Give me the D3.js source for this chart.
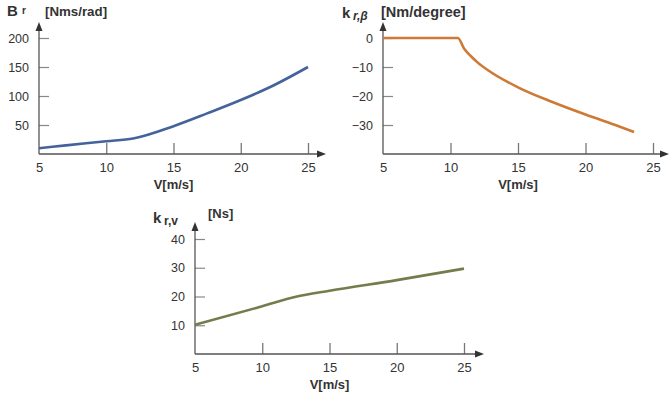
<!DOCTYPE html>
<html>
<head>
<meta charset="utf-8">
<script src="https://cdn.jsdelivr.net/npm/d3@7"></script>
<style>
  body { margin: 0; background: #fff; }
  svg { font-family: "Liberation Sans", Arial, sans-serif; }
  .tick text { fill: #333; }
</style>
</head>
<body>
<svg id="chart" width="670" height="400"></svg>
<script>
const width = 670;
const height = 400;

// wind speed ticks shared by all three panels
const speedTicks = [5, 10, 15, 20, 25];

// B_r damping [Nms/rad]
const brSpeed = [5, 7, 10, 12, 15, 17.5, 20, 22.5, 25];
const brValue = [10, 14.8, 22, 26.8, 48, 70, 93, 119, 150];
const brTicks = [50, 100, 150, 200];

// k_r,beta [Nm/degree]
const kbSpeed = [5, 10.55, 11, 11.5, 12, 13, 15, 17.5, 20, 22.5, 23.6];
const kbValue = [0, 0, -3.6, -6.2, -8.4, -11.8, -17, -22, -26.4, -30.5, -32.4];
const kbTicks = [-30, -20, -10, 0];

// k_r,v [Ns]
const kvSpeed = [5, 10, 12.5, 15, 20, 25];
const kvValue = [10.2, 16.6, 19.9, 22, 25.7, 29.7];
const kvTicks = [10, 20, 30, 40];

const svg = d3.select("#chart");

const panels = [
  {
    xs: brSpeed, ys: brValue, yTicks: brTicks, yDomain: [0, 200],
    left: 39, right: 308, arrowX: 326, bottom: 154, top: 38, arrowY: 22,
    color: "#44639a",
    title: {main: "B", x: 7, y: 16, mainSize: 15,
            sub: "r", subX: 22, subY: 14, subSize: 10, subStyle: "normal",
            unit: "[Nms/rad]", unitX: 45, unitY: 16, unitSize: 13.3}
  },
  {
    xs: kbSpeed, ys: kbValue, yTicks: kbTicks, yDomain: [-40, 0],
    left: 383, right: 653, arrowX: 669, bottom: 154, top: 38, arrowY: 22,
    color: "#cc7a35",
    title: {main: "k", x: 342, y: 18, mainSize: 15,
            sub: "r,β", subX: 353, subY: 20, subSize: 12, subStyle: "italic",
            unit: "[Nm/degree]", unitX: 381, unitY: 17, unitSize: 14.5}
  },
  {
    xs: kvSpeed, ys: kvValue, yTicks: kvTicks, yDomain: [0, 40],
    left: 195, right: 464, arrowX: 484, bottom: 354, top: 239, arrowY: 222,
    color: "#737d4b",
    title: {main: "k", x: 153, y: 223, mainSize: 15,
            sub: "r,v", subX: 164, subY: 225, subSize: 12, subStyle: "normal",
            unit: "[Ns]", unitX: 208, unitY: 218, unitSize: 13}
  }
];

panels.forEach(drawPanel);

function drawPanel(p) {
  const x = d3.scaleLinear().domain([5, 25]).range([p.left, p.right]);
  const y = d3.scaleLinear().domain(p.yDomain).range([p.bottom, p.top]);

  const g = svg.append("g");

  // x axis, ticks pointing up into the plot
  const xAxis = g.append("g")
    .attr("transform", `translate(0,${p.bottom})`)
    .call(d3.axisBottom(x).tickValues(speedTicks).tickSize(-11).tickPadding(9));
  xAxis.select(".domain").remove();
  xAxis.selectAll(".tick text").attr("font-size", "13px");
  xAxis.selectAll(".tick line")
    .attr("stroke", "#777")
    .attr("stroke-width", 1.3)
    .attr("display", d => d === 5 ? "none" : null);

  // y axis, ticks pointing right
  const yAxis = g.append("g")
    .attr("transform", `translate(${p.left},0)`)
    .call(d3.axisLeft(y).tickValues(p.yTicks).tickSize(-10).tickPadding(10));
  yAxis.select(".domain").remove();
  yAxis.selectAll(".tick text").attr("font-size", "12.5px");
  yAxis.selectAll(".tick line")
    .attr("stroke", "#888")
    .attr("stroke-width", 1.2);

  // axis lines with arrow heads
  g.append("line")
    .attr("x1", p.left).attr("x2", p.arrowX - 4)
    .attr("y1", p.bottom).attr("y2", p.bottom)
    .attr("stroke", "#555").attr("stroke-width", 1.3);
  g.append("path")
    .attr("d", `M${p.arrowX},${p.bottom} l-9,-3.5 l0,7 z`)
    .attr("fill", "#333");
  g.append("line")
    .attr("x1", p.left).attr("x2", p.left)
    .attr("y1", p.bottom).attr("y2", p.arrowY + 4)
    .attr("stroke", "#555").attr("stroke-width", 1.3);
  g.append("path")
    .attr("d", `M${p.left},${p.arrowY} l-3.5,9 l7,0 z`)
    .attr("fill", "#333");

  // data line
  const pts = p.xs.map((v, i) => [v, p.ys[i]]);
  g.append("path")
    .datum(pts)
    .attr("fill", "none")
    .attr("stroke", p.color)
    .attr("stroke-width", 2.6)
    .attr("stroke-linejoin", "round")
    .attr("d", d3.line().x(d => x(d[0])).y(d => y(d[1])).curve(d3.curveMonotoneX));

  // x axis label
  g.append("text")
    .attr("x", x(15))
    .attr("y", p.bottom + 35)
    .attr("text-anchor", "middle")
    .attr("font-weight", "bold")
    .attr("font-size", "13px")
    .attr("fill", "#333")
    .text("V[m/s]");

  // variable name and unit
  const t = p.title;
  g.append("text")
    .attr("x", t.x).attr("y", t.y)
    .attr("font-weight", "bold")
    .attr("font-size", t.mainSize + "px")
    .attr("fill", "#333")
    .text(t.main);
  g.append("text")
    .attr("x", t.subX).attr("y", t.subY)
    .attr("font-weight", "bold")
    .attr("font-style", t.subStyle)
    .attr("font-size", t.subSize + "px")
    .attr("fill", "#333")
    .text(t.sub);
  g.append("text")
    .attr("x", t.unitX).attr("y", t.unitY)
    .attr("font-weight", "bold")
    .attr("font-size", t.unitSize + "px")
    .attr("fill", "#333")
    .text(t.unit);
}
</script>
</body>
</html>
